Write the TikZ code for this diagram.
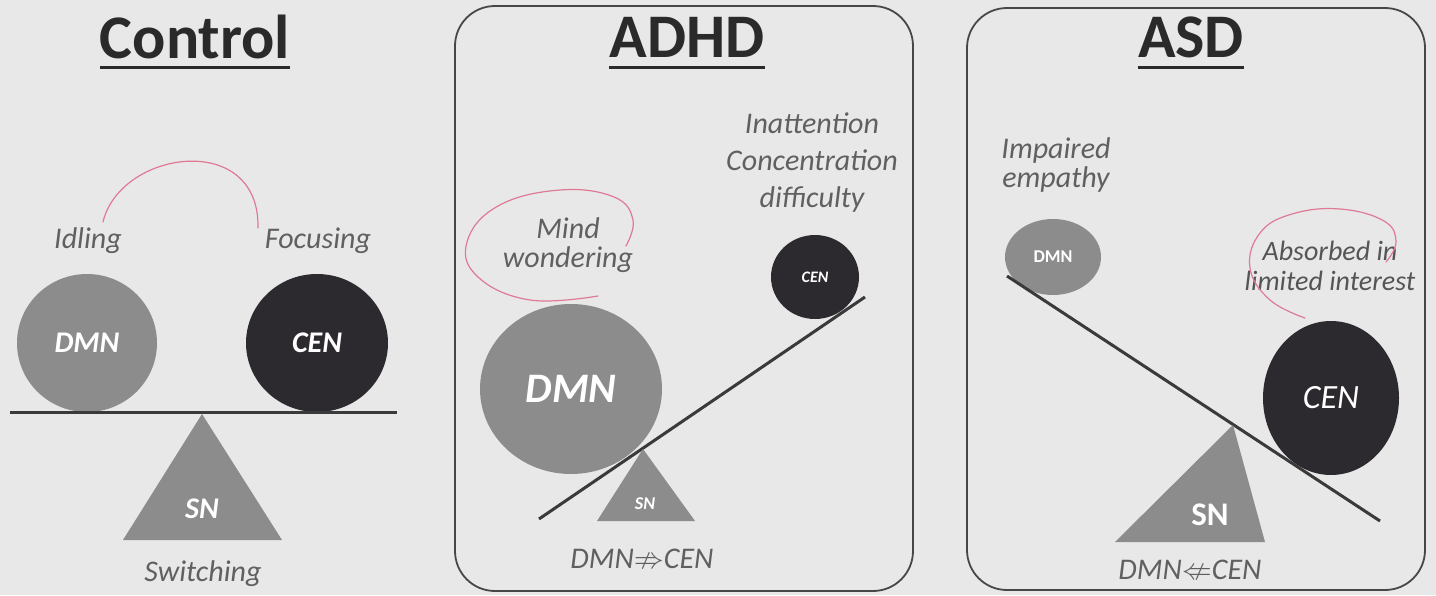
\documentclass[tikz,border=0pt]{standalone}
\usepackage{amssymb}
\usepackage{fontspec}
\setmainfont{Carlito}
\usetikzlibrary{shapes.geometric,calc}
\definecolor{paper}{HTML}{E8E8E8}
\definecolor{ink}{HTML}{2A2A2A}
\definecolor{beamink}{HTML}{3A3A3A}
\definecolor{midgray}{HTML}{8C8C8C}
\definecolor{darkfill}{HTML}{2C2A2E}
\definecolor{labelgray}{HTML}{606060}
\definecolor{penpink}{HTML}{DE7A96}
\definecolor{frame}{HTML}{474747}

\begin{document}
\begin{tikzpicture}[x=0.5pt,y=-0.5pt,
  title/.style={font=\fontsize{31}{31}\selectfont\bfseries, text=ink, inner sep=0pt, anchor=base},
  underbar/.style={draw=ink, line width=1.5pt},
  note/.style={font=\fontsize{15}{15}\selectfont\itshape, text=labelgray, align=center, inner sep=0pt},
  ball/.style={ellipse, inner sep=0pt, text=white},
  lightball/.style={ball, fill=midgray},
  darkball/.style={ball, fill=darkfill},
  beam/.style={draw=beamink, line width=1.5pt},
  fulcrum/.style={fill=midgray},
  panel/.style={draw=frame, line width=0.9pt, rounded corners=20pt},
  pen/.style={draw=penpink, line width=0.6pt, line cap=round},
  bi/.style={font=\fontsize{#1}{#1}\selectfont\bfseries\itshape},
]
\useasboundingbox (0,0) rectangle (1436,595);
\fill[paper] (0,0) rectangle (1436,595);

% ---------------- Control ----------------
\node[title] (tctl) at (195,58) {Control};
\draw[underbar] ($(tctl.base west)+(0,9)$) -- ($(tctl.base east)+(0,9)$);
\node[note] (idle) at (88,241) {Idling};
\node[note] (focus) at (318,241) {Focusing};
\coordinate (arcA) at (103,222);
\coordinate (arcB) at (258,228);
\draw[pen] (arcA) .. controls (120,150) and (260,130) .. (arcB);
\node[lightball, minimum width=70pt, minimum height=69pt, bi=15] (cdmn) at (87,343) {DMN};
\node[darkball, minimum width=71pt, minimum height=69pt, bi=15] (ccen) at (317,343) {CEN};
\coordinate (cbl) at (10,412);
\coordinate (cbr) at (397,412);
\draw[beam] (cbl) -- (cbr);
\coordinate (capex) at (202,414);
\coordinate (cleft) at (123,540);
\coordinate (cright) at (282,540);
\fill[fulcrum] (capex) -- (cright) -- (cleft) -- cycle;
\node[bi=15, text=white, inner sep=0pt] (csn) at (202,509) {SN};
\node[note] (cswitch) at (203,574) {Switching};

% ---------------- ADHD ----------------
\draw[panel] (455,6) rectangle (913,591);
\node[title] (tadhd) at (687,57) {ADHD};
\draw[underbar] ($(tadhd.base west)+(0,10)$) -- ($(tadhd.base east)+(0,10)$);
\node[note, font=\fontsize{15}{18.5}\selectfont\itshape] (inatt) at (812,163) {Inattention\\Concentration\\difficulty};
\node[note, font=\fontsize{15}{14.5}\selectfont\itshape] (mind) at (568,245) {Mind\\wondering};
\draw[pen] plot[smooth, tension=0.7] coordinates {(598,296) (530,300) (478,277) (467,242) (498,206) (560,190) (614,197) (633,220) (626,246)};
\node[lightball, minimum width=91pt, minimum height=85pt, bi=21] (admn) at (571,389) {DMN};
\node[darkball, minimum width=44pt, minimum height=42pt, bi=8] (acen) at (815,277) {CEN};
\coordinate (abl) at (539,519);
\coordinate (abr) at (865,297);
\draw[beam] (abl) -- (abr);
\coordinate (aapex) at (643,449);
\coordinate (aleft) at (597,521);
\coordinate (aright) at (695,521);
\fill[fulcrum] (aapex) -- (aright) -- (aleft) -- cycle;
\node[bi=9, text=white, inner sep=0pt] (asn) at (645,504) {SN};
\node[note] (arel) at (642,559) {DMN$\nRightarrow$CEN};

% ---------------- ASD ----------------
\draw[panel] (967,8) rectangle (1425,590);
\node[title] (tasd) at (1191,57) {ASD};
\draw[underbar] ($(tasd.base west)+(0,10)$) -- ($(tasd.base east)+(0,10)$);
\node[note, font=\fontsize{15}{14.5}\selectfont\itshape] (empathy) at (1056,165) {Impaired\\empathy};
\node[note, font=\fontsize{14}{15}\selectfont\itshape, text=ink!80] (absorb) at (1330,266) {Absorbed in\\limited interest};
\draw[pen] plot[smooth, tension=0.7] coordinates {(1305,318) (1270,300) (1250,268) (1260,233) (1292,214) (1340,209) (1384,221) (1396,242) (1386,262)};
\node[lightball, minimum width=48pt, minimum height=38pt, font=\fontsize{9}{9}\selectfont\bfseries] (sdmn) at (1053,257) {DMN};
\node[darkball, minimum width=68pt, minimum height=77pt, font=\fontsize{17}{17}\selectfont\itshape] (scen) at (1331,398) {CEN};
\coordinate (sbl) at (1007,276);
\coordinate (sbr) at (1380,521);
\draw[beam] (sbl) -- (sbr);
\coordinate (sapex) at (1233,425);
\coordinate (sleft) at (1115,542);
\coordinate (sright) at (1265,542);
\fill[fulcrum] (sapex) -- (sright) -- (sleft) -- cycle;
\node[font=\fontsize{16.5}{16.5}\selectfont\bfseries, text=white, inner sep=0pt] (ssn) at (1210,515) {SN};
\node[note] (srel) at (1190,570) {DMN$\nLeftarrow$CEN};
\end{tikzpicture}
\end{document}
